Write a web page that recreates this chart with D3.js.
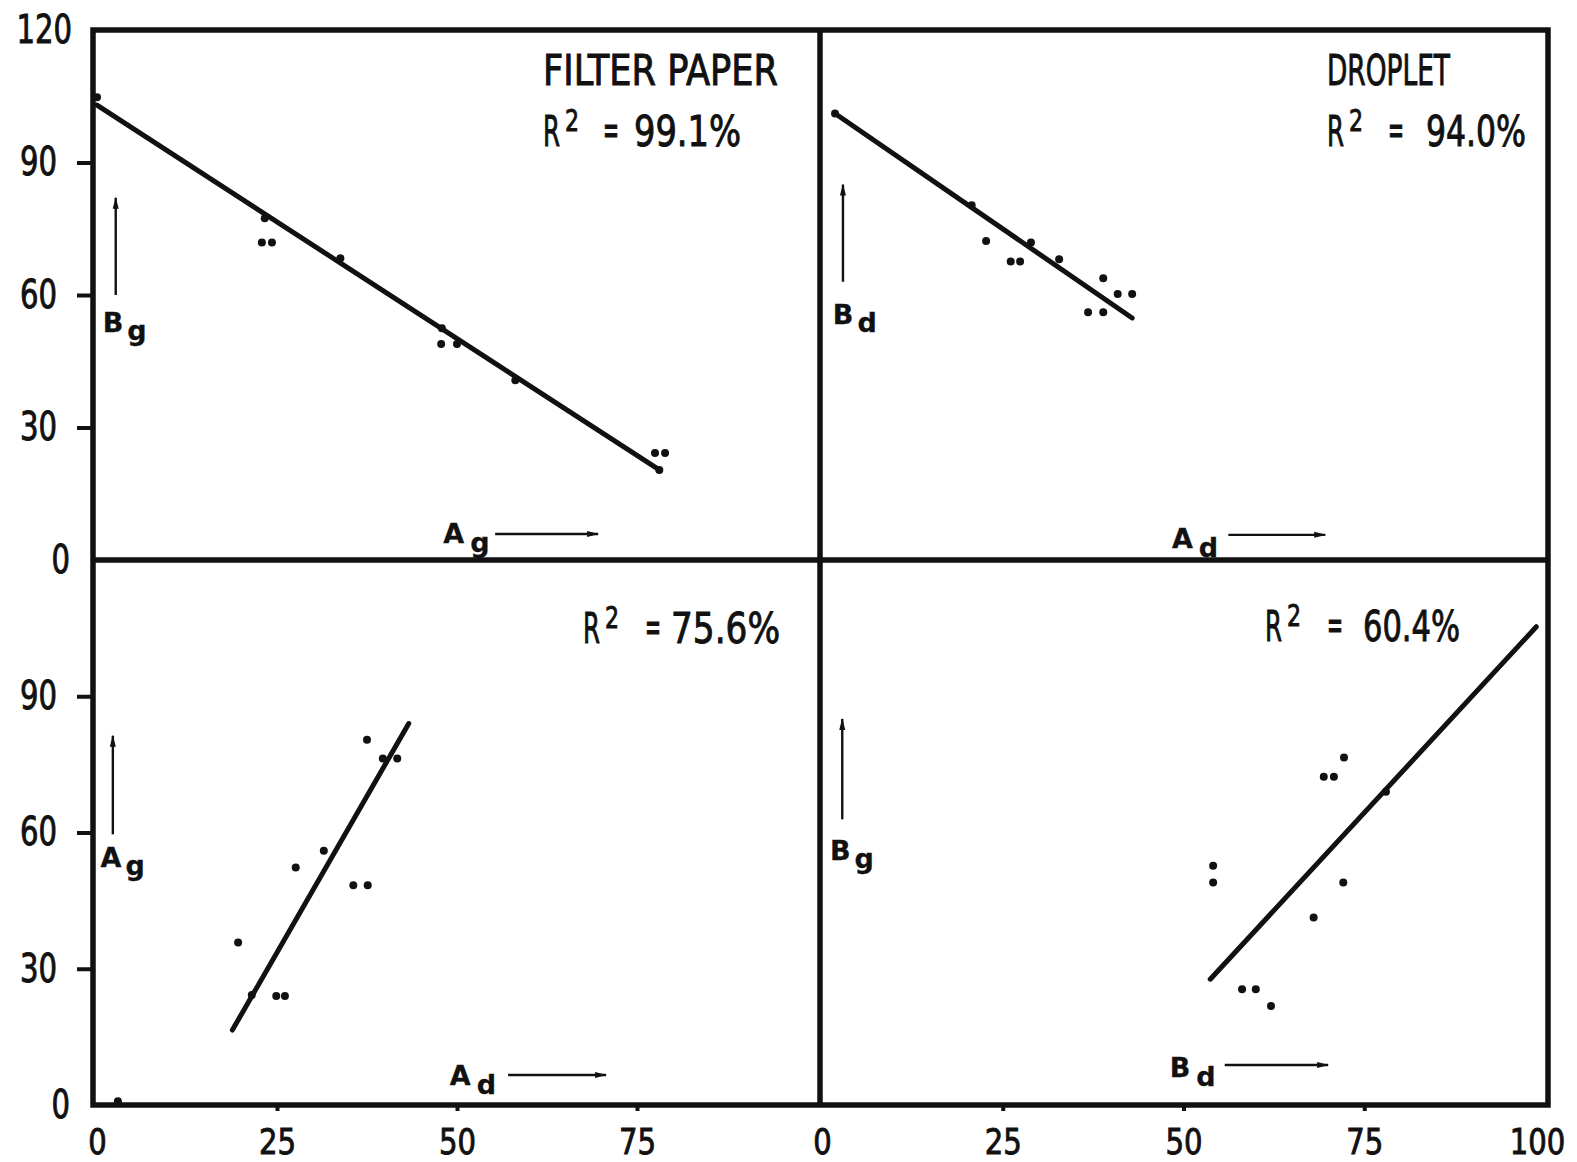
<!DOCTYPE html>
<html>
<head>
<meta charset="utf-8">
<script src="https://cdn.jsdelivr.net/npm/d3@7"></script>
<style>
  body { margin: 0; background: #fff; }
  text { font-family: "Liberation Sans Narrow", "DejaVu Sans Condensed", sans-serif; fill: #111; stroke: #111; stroke-width: 0.9; }
  .lab { font-family: "DejaVu Sans", sans-serif; font-weight: bold; stroke-width: 0.3; }
</style>
</head>
<body>
<div id="chart"></div>
<script>
// tick labels
const xTicksLeft = [0, 25, 50, 75];
const xTicksRight = [0, 25, 50, 75, 100];
const yTicksTop = [0, 30, 60, 90, 120];
const yTicksBottom = [0, 30, 60, 90];

// filter paper: Ag (x) vs Bg (y)
const filterAg = [0, 23.3, 22.9, 24.3, 33.8, 47.9, 47.8, 50.0, 58.1, 77.5, 78.9, 78.1];
const filterBg = [104.8, 77.4, 71.9, 71.9, 68.3, 52.5, 48.9, 48.9, 40.7, 24.2, 24.2, 20.4];
const filterFitX = [0, 78.1];
const filterFitY = [103.0, 20.4];

// droplet: Ad (x) vs Bd (y)
const dropletAd = [1.8, 20.7, 22.7, 26.1, 27.4, 28.9, 32.8, 38.9, 40.9, 42.9, 36.8, 38.9];
const dropletBd = [101.1, 80.3, 72.2, 67.6, 67.6, 71.9, 68.1, 63.8, 60.2, 60.2, 56.1, 56.1];
const dropletFitX = [1.8, 42.9];
const dropletFitY = [101.1, 54.8];

// Ad (x) vs Ag (y)
const aAd = [2.9, 19.6, 21.5, 24.9, 26.1, 27.6, 31.5, 35.6, 37.6, 37.5, 39.7, 41.7];
const aAg = [0.8, 35.8, 24.2, 24.0, 24.0, 52.3, 56.0, 48.4, 48.4, 80.4, 76.3, 76.3];
const aFitX = [18.8, 43.3];
const aFitY = [16.5, 84.0];

// Bd (x) vs Bg (y)
const bBd = [54.1, 54.1, 58.1, 60.0, 62.1, 68.0, 69.4, 70.8, 72.2, 72.1, 78.0];
const bBg = [52.7, 49.0, 25.5, 25.5, 21.8, 41.3, 72.3, 72.3, 76.5, 49.0, 69.0];
const bFitX = [53.7, 98.8];
const bFitY = [27.7, 105.3];

const titles = ["FILTER PAPER", "DROPLET", "", ""];
const r2Values = ["99.1%", "94.0%", "75.6%", "60.4%"];
const yLetters = [["B", "g"], ["B", "d"], ["A", "g"], ["B", "g"]];
const xLetters = [["A", "g"], ["A", "d"], ["A", "d"], ["B", "d"]];

const W = 1577, H = 1162;
const frame = {left: 93, right: 1548, top: 30, bottom: 1105, midX: 820, midY: 560};

const svg = d3.select("#chart").append("svg")
    .attr("width", W)
    .attr("height", H);

svg.append("defs").append("marker")
    .attr("id", "arr")
    .attr("viewBox", "0 0 12 8")
    .attr("refX", 11).attr("refY", 4)
    .attr("markerWidth", 12).attr("markerHeight", 8)
    .attr("markerUnits", "userSpaceOnUse")
    .attr("orient", "auto")
    .append("path")
    .attr("d", "M0,1 L12,4 L0,7 Z")
    .attr("fill", "#111");

const xL = d3.scaleLinear().domain([0, 100]).range([97, 817]);
const xR = d3.scaleLinear().domain([0, 100]).range([822, 1545]);
const yT = d3.scaleLinear().domain([0, 120]).range([frame.midY, frame.top]);
const yB = d3.scaleLinear().domain([0, 120]).range([frame.bottom, frame.midY]);

// frame
svg.append("rect")
    .attr("x", frame.left).attr("y", frame.top)
    .attr("width", frame.right - frame.left)
    .attr("height", frame.bottom - frame.top)
    .attr("fill", "none").attr("stroke", "#111").attr("stroke-width", 5.5);
svg.append("line")
    .attr("x1", frame.midX).attr("x2", frame.midX)
    .attr("y1", frame.top).attr("y2", frame.bottom)
    .attr("stroke", "#111").attr("stroke-width", 5.5);
svg.append("line")
    .attr("x1", frame.left).attr("x2", frame.right)
    .attr("y1", frame.midY).attr("y2", frame.midY)
    .attr("stroke", "#111").attr("stroke-width", 5.5);

// axes
function styleAxis(g, hide, size) {
    g.select(".domain").remove();
    g.selectAll(".tick line").attr("stroke", "#111").attr("stroke-width", 4)
        .attr("opacity", d => hide.includes(d) ? 0 : 1);
    g.selectAll(".tick text")
        .attr("font-size", size).attr("fill", "#111")
        .attr("textLength", d => 18.5 * String(d).length)
        .attr("lengthAdjust", "spacingAndGlyphs");
}

const gyT = svg.append("g")
    .attr("transform", "translate(" + frame.left + ",0)")
    .call(d3.axisLeft(yT).tickValues(yTicksTop).tickSize(16).tickPadding(20));
styleAxis(gyT, [0, 120], 39);
gyT.selectAll(".tick text").filter(d => d === 120).attr("x", -21);
gyT.selectAll(".tick text").filter(d => d === 0).attr("x", -23);

const gyB = svg.append("g")
    .attr("transform", "translate(" + frame.left + ",0)")
    .call(d3.axisLeft(yB).tickValues(yTicksBottom).tickSize(16).tickPadding(20));
styleAxis(gyB, [0], 39);
gyB.selectAll(".tick text").filter(d => d === 0).attr("x", -23);

const gxL = svg.append("g")
    .attr("transform", "translate(0," + frame.bottom + ")")
    .call(d3.axisBottom(xL).tickValues(xTicksLeft).tickSize(6).tickPadding(17));
styleAxis(gxL, [0], 36);

const gxR = svg.append("g")
    .attr("transform", "translate(0," + frame.bottom + ")")
    .call(d3.axisBottom(xR).tickValues(xTicksRight).tickSize(6).tickPadding(17));
styleAxis(gxR, [0, 100], 36);
gxR.selectAll(".tick text").filter(d => d === 100).attr("x", -8);

// panels
const panels = [
    {x: xL, y: yT, px: filterAg, py: filterBg, fx: filterFitX, fy: filterFitY,
     r2: {x: 543, y: 146, eq: 60, val: 91, w: 107}, title: {x: 543, y: 85, w: 235},
     yArr: {x: 2.6, y0: 60, y1: 82, lx: 0.8, ly: 51.6},
     xArr: {y: 5.9, x0: 55.3, x1: 69.6, lx: 48.1, ly: 3.9}},
    {x: xR, y: yT, px: dropletAd, py: dropletBd, fx: dropletFitX, fy: dropletFitY,
     r2: {x: 1327, y: 146, eq: 61, val: 99, w: 100}, title: {x: 1327, y: 85, w: 123},
     yArr: {x: 2.9, y0: 63, y1: 85, lx: 1.5, ly: 53.4},
     xArr: {y: 5.7, x0: 56.2, x1: 69.6, lx: 48.4, ly: 2.7}},
    {x: xL, y: yB, px: aAd, py: aAg, fx: aFitX, fy: aFitY,
     r2: {x: 583, y: 643, eq: 62, val: 88, w: 109}, title: null,
     yArr: {x: 2.2, y0: 59.6, y1: 81.3, lx: 0.5, ly: 52.4},
     xArr: {y: 6.6, x0: 57.1, x1: 70.7, lx: 49.0, ly: 4.4}},
    {x: xR, y: yB, px: bBd, py: bBg, fx: bFitX, fy: bFitY,
     r2: {x: 1265, y: 641, eq: 62, val: 98, w: 97}, title: null,
     yArr: {x: 2.8, y0: 62.9, y1: 85, lx: 1.1, ly: 54.0},
     xArr: {y: 8.8, x0: 55.7, x1: 70.0, lx: 48.1, ly: 6.2}}
];

panels.forEach(function(p, i) {
    const g = svg.append("g");

    // fitted line
    const fit = d3.line()
        .x(function(d) { return p.x(d[0]); })
        .y(function(d) { return p.y(d[1]); });
    g.append("path")
        .datum(d3.zip(p.fx, p.fy))
        .attr("d", fit)
        .attr("fill", "none").attr("stroke", "#111")
        .attr("stroke-width", 5).attr("stroke-linecap", "round");

    // points
    g.selectAll("circle")
        .data(d3.zip(p.px, p.py))
        .join("circle")
        .attr("cx", d => p.x(d[0]))
        .attr("cy", d => p.y(d[1]))
        .attr("r", 4)
        .attr("fill", "#111");

    // title and R^2
    if (p.title) {
        g.append("text")
            .attr("x", p.title.x).attr("y", p.title.y)
            .attr("font-size", 42)
            .attr("textLength", p.title.w).attr("lengthAdjust", "spacingAndGlyphs")
            .text(titles[i]);
    }
    g.append("text")
        .attr("x", p.r2.x).attr("y", p.r2.y)
        .attr("font-size", 42)
        .attr("textLength", 17).attr("lengthAdjust", "spacingAndGlyphs")
        .text("R");
    g.append("text")
        .attr("x", p.r2.x + 22).attr("y", p.r2.y - 15)
        .attr("font-size", 30)
        .attr("textLength", 14).attr("lengthAdjust", "spacingAndGlyphs")
        .text("2");
    g.append("text")
        .attr("x", p.r2.x + p.r2.eq).attr("y", p.r2.y - 2)
        .attr("font-size", 42)
        .attr("textLength", 16).attr("lengthAdjust", "spacingAndGlyphs")
        .text("=");
    g.append("text")
        .attr("x", p.r2.x + p.r2.val).attr("y", p.r2.y)
        .attr("font-size", 42)
        .attr("textLength", p.r2.w).attr("lengthAdjust", "spacingAndGlyphs")
        .text(r2Values[i]);

    // vertical arrow + label
    g.append("line")
        .attr("x1", p.x(p.yArr.x)).attr("x2", p.x(p.yArr.x))
        .attr("y1", p.y(p.yArr.y0)).attr("y2", p.y(p.yArr.y1))
        .attr("stroke", "#111").attr("stroke-width", 2.4)
        .attr("marker-end", "url(#arr)");
    const yl = g.append("text").attr("class", "lab")
        .attr("x", p.x(p.yArr.lx)).attr("y", p.y(p.yArr.ly))
        .attr("font-size", 27);
    yl.append("tspan").text(yLetters[i][0]);
    yl.append("tspan").attr("dx", 4).attr("dy", 8).text(yLetters[i][1]);

    // horizontal arrow + label
    g.append("line")
        .attr("x1", p.x(p.xArr.x0)).attr("x2", p.x(p.xArr.x1))
        .attr("y1", p.y(p.xArr.y)).attr("y2", p.y(p.xArr.y))
        .attr("stroke", "#111").attr("stroke-width", 2.4)
        .attr("marker-end", "url(#arr)");
    const xl = g.append("text").attr("class", "lab")
        .attr("x", p.x(p.xArr.lx)).attr("y", p.y(p.xArr.ly))
        .attr("font-size", 27);
    xl.append("tspan").text(xLetters[i][0]);
    xl.append("tspan").attr("dx", 6).attr("dy", 9).text(xLetters[i][1]);
});
</script>
</body>
</html>
